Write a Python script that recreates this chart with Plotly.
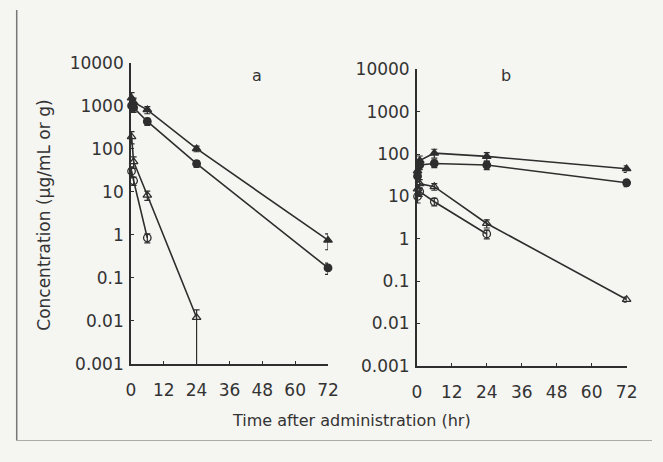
import plotly.graph_objects as go

times = [0.25, 1, 6, 24, 72]

# Panel a
a_filled_tri = [1500, 1200, 800, 100, 0.75]
a_filled_tri_err = [500, 300, 150, 15, 0.3]
a_filled_circ = [1000, 900, 430, 45, 0.17]
a_filled_circ_err = [300, 200, 80, 8, 0.05]
a_open_tri = [190, 50, 8.3, 0.012]
a_open_tri_err_plus = [60, 15, 2, 0.006]
a_open_tri_err_minus = [60, 15, 2, 0.0115]
a_open_circ = [30, 18, 0.85]
a_open_circ_err = [8, 4, 0.2]

# Panel b
b_filled_tri = [40, 70, 105, 88, 45]
b_filled_tri_err = [10, 20, 25, 20, 8]
b_filled_circ = [30, 55, 60, 55, 21]
b_filled_circ_err = [8, 12, 12, 12, 4]
b_open_tri = [15, 20, 17, 2.3, 0.037]
b_open_tri_err = [4, 5, 3, 0.5, 0.005]
b_open_circ = [10, 13, 7.5, 1.3]
b_open_circ_err = [3, 3, 1.5, 0.3]

ytick_vals = [0.001, 0.01, 0.1, 1, 10, 100, 1000, 10000]
ytick_text = ["0.001", "0.01", "0.1", "1", "10", "100", "1000", "10000"]
xtick_vals = [0, 12, 24, 36, 48, 60, 72]

INK = "#2e2e2e"
TXT = "#333333"
FONT = "DejaVu Sans, Liberation Sans, Arial, sans-serif"

fig = go.Figure()


def add(x, y, symbol, xa, ya, err_plus, err_minus=None):
    err = dict(type="data", array=err_plus, visible=True, color=INK,
               thickness=1.2, width=3)
    if err_minus is not None:
        err["symmetric"] = False
        err["arrayminus"] = err_minus
    fig.add_trace(go.Scatter(
        x=x, y=y, mode="lines+markers", xaxis=xa, yaxis=ya,
        line=dict(color=INK, width=1.6),
        marker=dict(symbol=symbol, size=7.5, color=INK,
                    line=dict(color=INK, width=1.3)),
        error_y=err, cliponaxis=False, showlegend=False))


add(times, a_filled_tri, "triangle-up", "x", "y", a_filled_tri_err)
add(times, a_filled_circ, "circle", "x", "y", a_filled_circ_err)
add(times[:4], a_open_tri, "triangle-up-open", "x", "y",
    a_open_tri_err_plus, a_open_tri_err_minus)
add(times[:3], a_open_circ, "circle-open", "x", "y", a_open_circ_err)

add(times, b_filled_tri, "triangle-up", "x2", "y2", b_filled_tri_err)
add(times, b_filled_circ, "circle", "x2", "y2", b_filled_circ_err)
add(times, b_open_tri, "triangle-up-open", "x2", "y2", b_open_tri_err)
add(times[:4], b_open_circ, "circle-open", "x2", "y2", b_open_circ_err)

W, H = 663, 462


def px(x):
    return x / W


def py(y):
    return 1 - y / H


common_x = dict(range=[0, 72], tickvals=xtick_vals, showline=True,
                linecolor=INK, linewidth=1.5, ticks="inside", ticklen=3,
                tickcolor=INK, showgrid=False, zeroline=False,
                ticklabelstandoff=10,
                tickfont=dict(family=FONT, size=17, color=TXT))
common_y = dict(type="log", range=[-3, 4], tickvals=ytick_vals,
                ticktext=ytick_text, showline=True, linecolor=INK,
                linewidth=1.5, ticks="inside", ticklen=3, tickcolor=INK,
                showgrid=False, zeroline=False, ticklabelstandoff=2,
                tickfont=dict(family=FONT, size=17, color=TXT))

fig.update_layout(
    width=W, height=H,
    margin=dict(l=0, r=0, t=0, b=0),
    paper_bgcolor="#f5f5f2", plot_bgcolor="rgba(0,0,0,0)",
    xaxis=dict(domain=[px(129), px(331)], anchor="y", **common_x),
    yaxis=dict(domain=[py(370), py(55)], anchor="x", **common_y),
    xaxis2=dict(domain=[px(422), px(637)], anchor="y2", **common_x),
    yaxis2=dict(domain=[py(372), py(62)], anchor="x2", **common_y),
    annotations=[
        dict(text="a", x=px(258), y=py(68), xref="paper", yref="paper",
             xanchor="center", yanchor="middle", showarrow=False,
             font=dict(family=FONT, size=16, color=TXT)),
        dict(text="b", x=px(513), y=py(68), xref="paper", yref="paper",
             xanchor="center", yanchor="middle", showarrow=False,
             font=dict(family=FONT, size=16, color=TXT)),
        dict(text="Concentration (µg/mL or g)", x=px(40), y=py(215),
             xref="paper", yref="paper", xanchor="center", yanchor="middle",
             showarrow=False, textangle=-90,
             font=dict(family=FONT, size=17, color=TXT)),
        dict(text="Time after administration (hr)", x=px(355), y=py(429),
             xref="paper", yref="paper", xanchor="center", yanchor="middle",
             showarrow=False,
             font=dict(family=FONT, size=16, color=TXT)),
    ],
    shapes=[
        dict(type="line", xref="paper", yref="paper", x0=px(12), x1=px(12),
             y0=py(450), y1=1, line=dict(color="#777", width=1.5)),
        dict(type="line", xref="paper", yref="paper", x0=px(12), x1=1,
             y0=py(450), y1=py(450), line=dict(color="#aaa", width=1)),
    ],
)

fig.write_html("out.html")
